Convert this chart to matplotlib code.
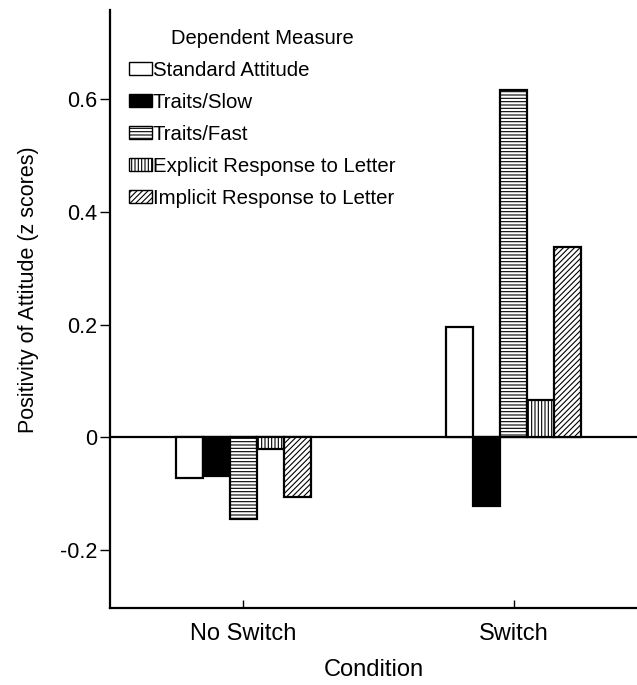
import matplotlib.pyplot as plt
import numpy as np

plt.rcParams['font.family'] = ['Liberation Sans', 'DejaVu Sans']
plt.rcParams['hatch.linewidth'] = 0.8

conditions = ['No Switch', 'Switch']
measures = ['Standard Attitude', 'Traits/Slow', 'Traits/Fast',
            'Explicit Response to Letter', 'Implicit Response to Letter']
values = {
    'Standard Attitude': [-0.073, 0.196],
    'Traits/Slow': [-0.069, -0.122],
    'Traits/Fast': [-0.145, 0.616],
    'Explicit Response to Letter': [-0.021, 0.067],
    'Implicit Response to Letter': [-0.106, 0.338],
}
y_ticks = [-0.2, 0, 0.2, 0.4, 0.6]
y_tick_labels = ['-0.2', '0', '0.2', '0.4', '0.6']

colors = ['white', 'black', 'white', 'white', 'white']
hatches = [None, None, '-----', '|||||', '//////']

fig = plt.figure(figsize=(6.37, 6.85), dpi=100)
ax = fig.add_axes([0.1727, 0.1124, 0.8273, 0.8726])

x = np.arange(len(conditions))
width = 0.1
for i, m in enumerate(measures):
    ax.bar(x + (i - 2) * width, values[m], width, color=colors[i],
           edgecolor='black', linewidth=1.6, hatch=hatches[i], label=m)

ax.axhline(0, color='black', linewidth=1.6, zorder=0)

ax.set_xlim(-0.494, 1.457)
ax.set_ylim(-0.303, 0.758)
ax.set_yticks(y_ticks)
ax.set_yticklabels(y_tick_labels)
ax.set_xticks(x)
ax.set_xticklabels(conditions)

for s in ['top', 'right']:
    ax.spines[s].set_visible(False)
for s in ['left', 'bottom']:
    ax.spines[s].set_linewidth(1.6)

ax.tick_params(axis='y', direction='out', length=7, width=1, labelsize=15.5, pad=2)
ax.tick_params(axis='x', direction='in', length=6, width=1, labelsize=17, pad=11)

ax.set_xlabel('Condition', fontsize=17, labelpad=10)
ax.set_ylabel('Positivity of Attitude (z scores)', fontsize=15.5, labelpad=15, y=0.532)

leg = ax.legend(title='Dependent Measure', loc='upper left',
                bbox_to_anchor=(0.02, 0.982), frameon=False, fontsize=14.7,
                title_fontsize=14.5, handlelength=1.13, handleheight=0.6,
                handletextpad=0.05, labelspacing=0.63, borderaxespad=0)
for h in leg.legend_handles:
    h.set_linewidth(1.0)

fig.savefig('out.png', dpi=100)
